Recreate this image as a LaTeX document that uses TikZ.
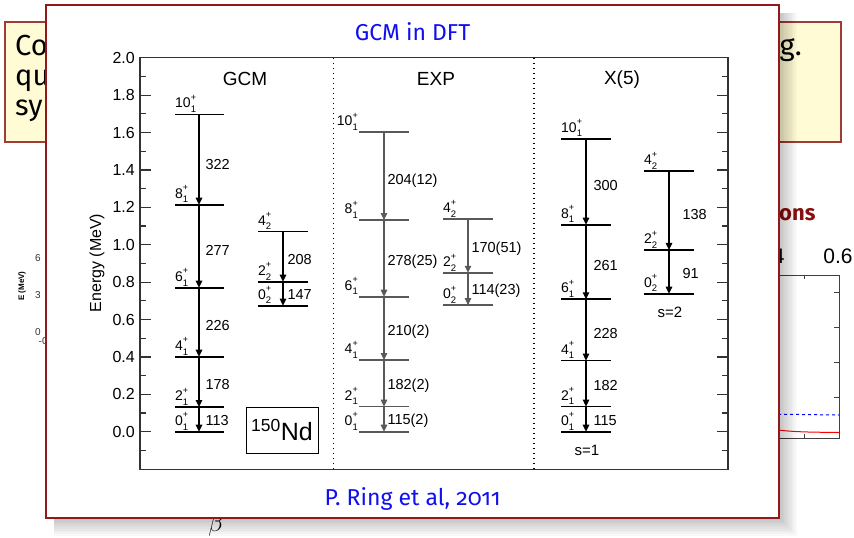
\documentclass[tikz,border=0pt]{standalone}
\usepackage{fontspec}
\setsansfont{Liberation Sans}
\newfontfamily\slidefont{Fira Sans}[Numbers=OldStyle]
\usetikzlibrary{arrows.meta}

\definecolor{popred}{RGB}{145,25,25}
\definecolor{boxedge}{RGB}{160,60,55}
\definecolor{boxfill}{RGB}{255,251,213}
\definecolor{ttlblue}{RGB}{15,15,240}
\definecolor{headred}{RGB}{135,15,15}

\newcommand{\fsz}[1]{\fontsize{#1}{#1}\selectfont}
\newcommand{\jpi}[2]{#1\rlap{\raisebox{0.52em}{\fsz{9}+}}\raisebox{-0.34em}{\fsz{9.5}#2}}

\begin{document}
\begin{tikzpicture}[
  x=1pt, y=-1pt,
  >={Triangle[width=6.5pt,length=7pt]},
  slidetxt/.style={font=\slidefont\fsz{29}, inner sep=0pt, anchor=base west},
  ttl/.style={font=\slidefont\fsz{23}, text=ttlblue, inner sep=0pt, anchor=base},
  bgnum/.style={font=\sffamily\fsz{10}, text=black!80, inner sep=0pt},
  axis/.style={line width=1.2pt, draw=black!80},
  sep/.style={line width=1.4pt, dash pattern=on 1.4pt off 3.6pt},
  level/.style={line width=1.7pt},
  trans/.style={->, line width=1.1pt},
  explvl/.style={draw=black!65},
  ticklab/.style={font=\sffamily\fsz{16}, inner sep=0pt, anchor=east},
  colhead/.style={font=\sffamily\fsz{19}, inner sep=0pt},
  jlab/.style={font=\sffamily\fsz{14}, inner sep=0pt, yshift=1.5pt},
  blab/.style={font=\sffamily\fsz{14.5}, inner sep=0pt, anchor=west, pos=0.55},
  slab/.style={font=\sffamily\fsz{15}, inner sep=0pt}
]
\fill[white] (0,0) rectangle (854,538);
\useasboundingbox (0,0) rectangle (854,538);

% ---- slide behind the popup ----
\draw[line width=1.2pt, draw=boxedge, fill=boxfill] (5,22) rectangle (841,142);
\node[slidetxt] (co) at (15,55) {Co};
\node[slidetxt] (qu) at (15,85) {qu};
\node[slidetxt] (sy) at (15,115) {sy};
\node[slidetxt] (eg) at (779.5,55) {g.};
\node[font=\slidefont\bfseries\fsz{22}, text=headred, inner sep=0pt, anchor=base west] (hd) at (779,220.5) {ons};

% small plot on the left
\node[font=\sffamily\bfseries\fsz{8}, rotate=90, inner sep=0pt] (elab) at (22,286) {E (MeV)};
\node[bgnum] (n6) at (38,258) {6};
\node[bgnum] (n3) at (38,295) {3};
\node[bgnum] (n0) at (38,332) {0};
\node[bgnum, anchor=west] (nm) at (38.5,341) {-0.2};
\node[font=\fsz{24}, inner sep=0pt, anchor=base] (beta) at (216,531) {$\beta$};

% plot on the right
\draw[line width=1pt, draw=black!75] (760,275) -- (839,275) -- (839,438) -- (760,438);
\foreach \yy in {292,327,362,397}
  \draw[line width=1pt, draw=black!75] (839,\yy) -- ++(-5,0);
\draw[line width=1pt, draw=black!75] (804,275) -- ++(0,4);
\draw[line width=1pt, draw=black!75] (804,438) -- ++(0,-4);
\draw[blue, dashed, line width=1pt] (760,414) -- (839,415);
\draw[red, line width=1pt] (760,427) .. controls (785,432) and (800,432) .. (839,432.5);
\node[font=\sffamily\fsz{21}, inner sep=0pt, anchor=base] (x04) at (770,263) {0.4};
\node[font=\sffamily\fsz{21}, inner sep=0pt, anchor=base] (x06) at (838,263) {0.6};

% ---- popup with shadow ----
\foreach \s in {2,4,...,20}
  \fill[black, opacity=0.025] (54,13) rectangle (779+\s*0.9, 518+\s*0.9);
\draw[line width=1.2pt, draw=popred, fill=white] (46,5) rectangle (779,518);
\node[ttl] (title) at (412.5,40.5) {GCM in DFT};
\node[ttl] (ref) at (412.5,505) {P. Ring et al, 2011};

% ---- level scheme, y in MeV ----
\begin{scope}[shift={(0,431.7)}, y=187pt]
  \draw[axis] (140,-0.2) rectangle (728,2.0);
  \foreach \k in {-1,...,19}{
    \pgfmathsetmacro\e{\k/10}
    \ifodd\k \def\tl{6}\else\def\tl{11}\fi
    \draw[axis] (140,\e) -- ++(\tl,0);
    \draw[axis] (728,\e) -- ++(-\tl,0);
  }
  \foreach \e/\t in {0/0.0, 0.2/0.2, 0.4/0.4, 0.6/0.6, 0.8/0.8, 1/1.0, 1.2/1.2, 1.4/1.4, 1.6/1.6, 1.8/1.8, 2/2.0}
    \node[ticklab] (t\t) at (135,\e) {\t};
  \node[font=\sffamily\fsz{16}, rotate=90, inner sep=0pt] (ylab) at (97,0.902) {Energy (MeV)};
  \draw[sep] (333.5,-0.2) -- (333.5,2.0);
  \draw[sep] (534,-0.2) -- (534,2.0);

  % GCM
  \node[colhead] (hgcm) at (245,1.885) {GCM};
  \foreach \nm/\e/\J in {g10/1.697/10, g8/1.214/8, g6/0.770/6, g4/0.401/4, g2/0.132/2, g0/0/0}{
    \draw[level] (175,\e) -- (224,\e);
    \coordinate (\nm) at (199,\e);
    \node[jlab, anchor=south west] (\nm-j) at (175,\e) {\jpi{\J}{1}};
  }
  \foreach \a/\b/\v in {g10/g8/322, g8/g6/277, g6/g4/226, g4/g2/178, g2/g0/113}
    \draw[trans] (\a) -- node[blab, xshift=6pt] {\v} (\b);
  \foreach \nm/\e/\J in {g42/1.070/4, g22/0.802/2, g02/0.674/0}{
    \draw[level] (258,\e) -- (308,\e);
    \coordinate (\nm) at (283,\e);
    \node[jlab, anchor=south west] (\nm-j) at (258,\e) {\jpi{\J}{2}};
  }
  \foreach \a/\b/\v in {g42/g22/208, g22/g02/147}
    \draw[trans] (\a) -- node[blab, xshift=4pt] {\v} (\b);
  \node[draw, line width=1pt, minimum width=72pt, minimum height=46pt, inner sep=0pt,
        font=\sffamily\fsz{25}] (nd) at (282,0.009) {\textsuperscript{150}Nd};

  % EXP
  \node[colhead] (hexp) at (436,1.885) {EXP};
  \foreach \nm/\e/\J in {e10/1.601/10, e8/1.132/8, e6/0.722/6, e4/0.383/4, e2/0.134/2, e0/0/0}{
    \draw[level, explvl] (359,\e) -- (409,\e);
    \coordinate (\nm) at (384,\e);
    \node[jlab, anchor=south east] (\nm-j) at (358,\e) {\jpi{\J}{1}};
  }
  \foreach \a/\b/\v in {e10/e8/204(12), e8/e6/278(25), e6/e4/210(2), e4/e2/182(2), e2/e0/115(2)}
    \draw[trans, explvl] (\a) -- node[blab, xshift=3pt] {\v} (\b);
  \foreach \nm/\e/\J in {e42/1.137/4, e22/0.850/2, e02/0.677/0}{
    \draw[level, explvl] (443,\e) -- (493,\e);
    \coordinate (\nm) at (468,\e);
    \node[jlab, anchor=south west] (\nm-j) at (443,\e) {\jpi{\J}{2}};
  }
  \foreach \a/\b/\v in {e42/e22/170(51), e22/e02/114(23)}
    \draw[trans, explvl] (\a) -- node[blab, xshift=3pt] {\v} (\b);

  % X(5)
  \node[colhead] (hx5) at (622,1.885) {X(5)};
  \foreach \nm/\e/\J in {x10/1.567/10, x8/1.107/8, x6/0.708/6, x4/0.380/4, x2/0.134/2, x0/0/0}{
    \draw[level] (561,\e) -- (611,\e);
    \coordinate (\nm) at (586,\e);
    \node[jlab, anchor=south west] (\nm-j) at (561,\e) {\jpi{\J}{1}};
  }
  \foreach \a/\b/\v in {x10/x8/300, x8/x6/261, x6/x4/228, x4/x2/182, x2/x0/115}
    \draw[trans] (\a) -- node[blab, xshift=7pt] {\v} (\b);
  \foreach \nm/\e/\J in {x42/1.393/4, x22/0.972/2, x02/0.738/0}{
    \draw[level] (644,\e) -- (694,\e);
    \coordinate (\nm) at (669,\e);
    \node[jlab, anchor=south west] (\nm-j) at (644,\e) {\jpi{\J}{2}};
  }
  \foreach \a/\b/\v in {x42/x22/138, x22/x02/91}
    \draw[trans] (\a) -- node[blab, xshift=13pt] {\v} (\b);
  \node[slab] (s1) at (587,-0.098) {s=1};
  \node[slab] (s2) at (670,0.640) {s=2};
\end{scope}
\end{tikzpicture}
\end{document}
